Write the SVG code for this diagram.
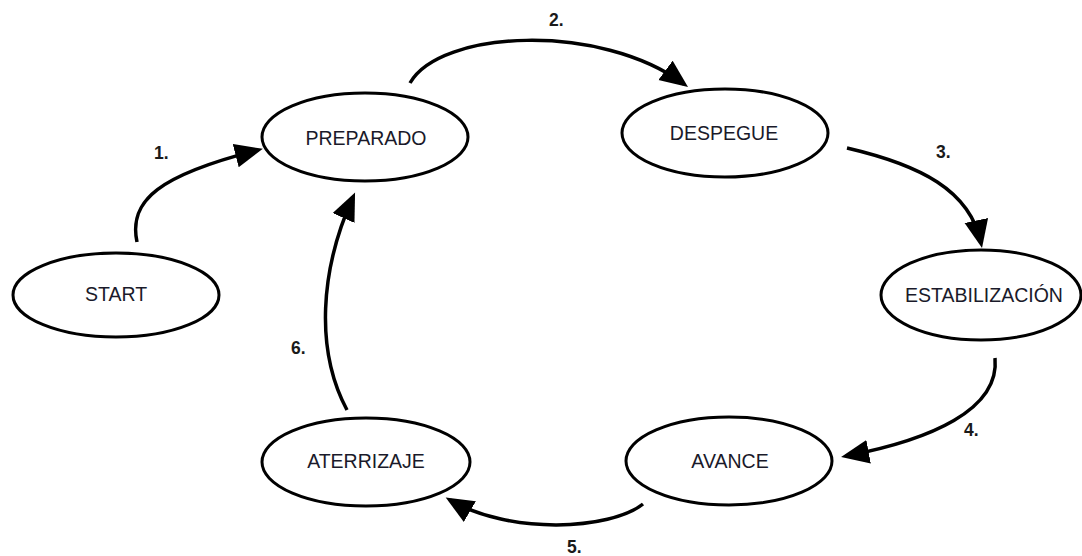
<svg xmlns="http://www.w3.org/2000/svg" width="1082" height="556" viewBox="0 0 1082 556">
<style>
.node ellipse{fill:#fff;stroke:#000;stroke-width:3}
.node text{font-family:"Liberation Sans",Arial,sans-serif;font-size:19.5px;fill:#1a1a2a;text-anchor:middle}
.conn path{fill:none;stroke:#000;stroke-width:3.5;marker-end:url(#ah)}
.lbl{font-family:"Liberation Sans",Arial,sans-serif;font-size:17.5px;font-weight:bold;fill:#1a1a1a}
</style>
<defs>
<marker id="ah" markerUnits="userSpaceOnUse" markerWidth="30" markerHeight="26" refX="23" refY="12" orient="auto">
<path d="M0,0 L28,12 L0,24 z" fill="#000"/>
</marker>
</defs>
<rect width="1082" height="556" fill="#fff"/>
<g class="conn">
<path d="M137,242 C128,200 160,175 258,150"/>
<path d="M410,83 C440,30 600,22 684,84"/>
<path d="M847,148 C920,165 970,190 981,243"/>
<path d="M995,358 C1000,410 930,440 846,456"/>
<path d="M643,504 C610,530 510,535 450,500"/>
<path d="M347,410 C315,350 320,270 353,197"/>
</g>
<g id="labels">
<text class="lbl" x="154" y="159">1.</text>
<text class="lbl" x="549" y="26">2.</text>
<text class="lbl" x="936" y="158">3.</text>
<text class="lbl" x="964" y="436">4.</text>
<text class="lbl" x="567" y="553">5.</text>
<text class="lbl" x="291" y="354">6.</text>
</g>
<g id="start" class="node"><ellipse cx="116" cy="295" rx="103" ry="42"/><text x="116" y="301">START</text></g>
<g id="preparado" class="node"><ellipse cx="365" cy="137" rx="103" ry="44"/><text x="366" y="145">PREPARADO</text></g>
<g id="despegue" class="node"><ellipse cx="725" cy="133" rx="103" ry="44"/><text x="724" y="140">DESPEGUE</text></g>
<g id="estabilizacion" class="node"><ellipse cx="981" cy="295" rx="100" ry="45"/><text x="984" y="302">ESTABILIZACIÓN</text></g>
<g id="avance" class="node"><ellipse cx="729" cy="461" rx="103" ry="44"/><text x="730" y="468">AVANCE</text></g>
<g id="aterrizaje" class="node"><ellipse cx="366" cy="462" rx="104" ry="44"/><text x="366" y="468">ATERRIZAJE</text></g>
</svg>
